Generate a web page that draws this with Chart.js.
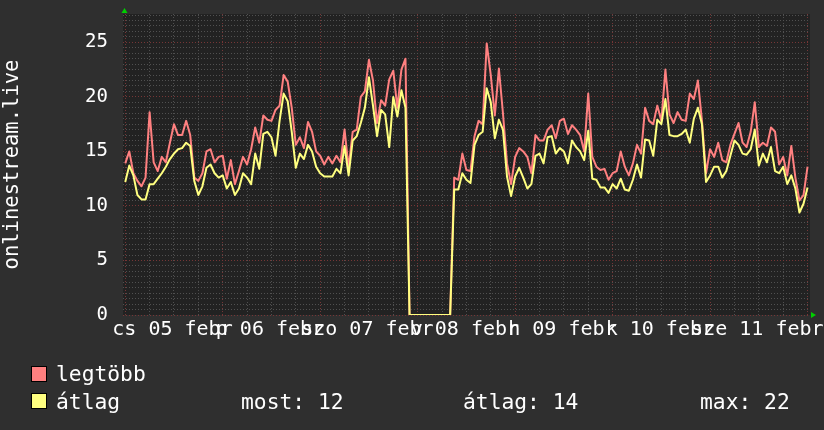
<!DOCTYPE html>
<html lang="hu">
<head>
<meta charset="utf-8">
<title>onlinestream.live</title>
<script src="https://cdn.jsdelivr.net/npm/chart.js@4/dist/chart.umd.min.js"></script>
<style>
  html, body { margin: 0; padding: 0; background: #2f2f2f; }
  #wrap { position: relative; width: 824px; height: 430px; }
  .lg { position: absolute; font: 21.3px/21.3px "DejaVu Sans Mono", monospace; color: #fff; white-space: pre; }
  .sw { position: absolute; width: 14px; height: 14px; border: 1px solid #000; }
</style>
</head>
<body>
<div id="wrap">
  <canvas id="rrdChart" width="824" height="430"></canvas>
</div>
<script>
// napi címkék (délre igazítva)
const dayLabels = ['cs 05 febr', 'p 06 febr', 'szo 07 febr', 'v 08 febr', 'h 09 febr', 'k 10 febr', 'sze 11 febr'];

// óránkénti értékek, 0..168 óra
const maxValues = [
  13.9, 15.0, 13.0, 12.3, 11.8, 12.6, 18.6, 14.0, 13.2, 14.5, 14.0, 15.8, 17.5, 16.5, 16.5, 17.8, 16.5, 12.6, 12.3, 13.0, 15.0, 15.2, 14.0, 14.5,
  14.6, 12.5, 14.2, 12.0, 13.2, 14.5, 13.8, 15.2, 17.2, 15.8, 18.3, 17.9, 17.8, 18.8, 19.2, 22.0, 21.4, 19.0, 15.6, 16.3, 15.3, 17.7, 16.8, 15.0,
  14.6, 13.8, 14.5, 13.9, 14.6, 14.0, 17.0, 13.5, 16.8, 17.0, 20.0, 20.5, 23.4, 21.5, 17.6, 19.7, 19.2, 21.6, 22.4, 19.0, 22.5, 23.5, 0, 0,
  0, 0, 0, 0, 0, 0, 0, 0, 0, 12.6, 12.4, 14.8, 13.3, 13.2, 16.4, 17.8, 17.5, 24.9, 22.0, 18.3, 22.6, 18.5, 13.9, 12.0,
  14.5, 15.3, 15.0, 14.5, 13.0, 16.5, 16.0, 16.0, 17.0, 17.4, 16.2, 17.8, 18.0, 16.6, 17.4, 17.0, 16.5, 15.0, 20.3, 14.5, 13.6, 13.3, 13.4, 12.4,
  13.0, 13.2, 15.0, 13.6, 12.8, 13.9, 15.6, 14.8, 19.0, 17.8, 17.5, 19.2, 17.8, 22.5, 18.4, 17.6, 18.6, 17.9, 17.8, 20.3, 19.8, 21.5, 17.8, 13.0,
  15.2, 14.5, 15.8, 14.2, 14.0, 15.6, 16.6, 17.6, 15.8, 15.4, 16.8, 19.5, 15.4, 15.8, 15.5, 17.2, 16.8, 13.8, 14.5, 12.8, 15.5, 12.6, 10.5, 11.0, 13.6
];
const avgValues = [
  12.2, 13.7, 12.8, 11.0, 10.6, 10.6, 12.0, 12.0, 12.5, 13.0, 13.6, 14.3, 14.8, 15.2, 15.3, 15.8, 15.5, 12.3, 11.0, 11.8, 13.5, 13.8, 13.0, 12.6,
  12.8, 11.6, 12.2, 11.0, 11.6, 13.0, 12.6, 12.0, 14.8, 13.4, 16.6, 16.8, 16.3, 14.6, 17.8, 20.3, 19.6, 16.8, 13.5, 14.8, 14.3, 15.6, 15.0, 13.6,
  13.0, 12.7, 12.7, 12.7, 13.4, 13.0, 15.5, 12.8, 16.0, 16.4, 17.6, 19.0, 21.8, 19.2, 16.4, 18.8, 18.4, 15.4, 20.0, 18.2, 20.6, 19.0, 0, 0,
  0, 0, 0, 0, 0, 0, 0, 0, 0, 11.5, 11.5, 13.0, 12.4, 12.1, 15.6, 16.5, 16.8, 20.8, 19.5, 16.2, 17.9, 17.0, 12.7, 10.9,
  12.7, 13.5, 12.6, 11.6, 12.0, 14.6, 14.8, 13.9, 16.3, 16.4, 14.8, 15.3, 15.0, 13.9, 16.0, 15.4, 15.0, 14.2, 16.9, 12.5, 12.4, 11.7, 11.7, 11.2,
  12.0, 11.6, 12.5, 11.5, 11.4, 12.4, 13.8, 12.6, 16.1, 16.0, 14.6, 17.9, 17.5, 19.8, 16.5, 16.4, 16.4, 16.6, 17.0, 15.8, 18.0, 19.0, 17.5, 12.2,
  12.8, 13.6, 13.6, 12.6, 13.2, 14.6, 16.0, 15.6, 14.8, 14.7, 15.2, 17.0, 13.7, 14.8, 14.0, 15.4, 13.2, 13.0, 13.6, 12.0, 12.8, 11.6, 9.4, 10.2, 11.7
];

const seriesNames = ['legtöbb', 'átlag'];
const seriesColors = ['#ff8080', '#ffff80'];
const statLabels = ['most', 'átlag', 'max'];
const statValues = [12, 14, 22];

const FONT = 'DejaVu Sans Mono';
const MINOR = '#505050';
const MAJOR = '#763636';

// rrdtool-szerű háttér és zöld nyilak
const plotFrame = {
    id: 'plotFrame',
    beforeDraw(chart) {
        const { ctx, chartArea: a } = chart;
        ctx.save();
        ctx.fillStyle = '#222222';
        ctx.fillRect(a.left, a.top, a.right - a.left, a.bottom - a.top);
        ctx.restore();
    },
    afterDraw(chart) {
        const { ctx, chartArea: a } = chart;
        const x0 = a.left + 1.5;
        ctx.save();
        ctx.fillStyle = '#00d000';
        ctx.beginPath();
        ctx.moveTo(x0 - 3, a.top - 1);
        ctx.lineTo(x0 + 3, a.top - 1);
        ctx.lineTo(x0, a.top - 6);
        ctx.closePath();
        ctx.fill();
        ctx.beginPath();
        ctx.moveTo(a.right + 1, a.bottom - 3);
        ctx.lineTo(a.right + 1, a.bottom + 3);
        ctx.lineTo(a.right + 6, a.bottom);
        ctx.closePath();
        ctx.fill();
        ctx.restore();
    }
};

const toPoints = arr => arr.map((v, i) => ({ x: i, y: v }));

new Chart(document.getElementById('rrdChart'), {
    type: 'line',
    data: {
        datasets: [
            { label: seriesNames[0], data: toPoints(maxValues), borderColor: seriesColors[0], borderWidth: 2, pointRadius: 0, tension: 0, borderJoinStyle: 'round', order: 1 },
            { label: seriesNames[1], data: toPoints(avgValues), borderColor: seriesColors[1], borderWidth: 2, pointRadius: 0, tension: 0, borderJoinStyle: 'round', order: 0 }
        ]
    },
    options: {
        responsive: false, animation: false,
        layout: { padding: { top: 14, right: 14, left: 0, bottom: 0 } },
        plugins: { legend: { display: false }, tooltip: { enabled: false } },
        scales: {
            x: {
                type: 'linear', bounds: 'data', min: -0.55, max: 168.6,
                afterBuildTicks: s => { s.ticks = []; for (let h = 0; h <= 168; h += 6) s.ticks.push({ value: h }); },
                afterFit: s => { s.height = 115; s.paddingLeft = 0; s.paddingRight = 0; },
                ticks: {
                    autoSkip: false, maxRotation: 0, minRotation: 0, padding: 3, labelOffset: -1.5,
                    color: '#ffffff', font: { family: FONT, size: 20 },
                    callback: v => v % 24 === 12 ? dayLabels[(v - 12) / 24] : ''
                },
                grid: { drawTicks: false, lineWidth: 1, color: c => (c.tick && c.tick.value % 24 === 0) ? MAJOR : MINOR },
                border: { display: false, dash: [1, 2] }
            },
            y: {
                type: 'linear', bounds: 'data', min: 0, max: 27.6,
                afterBuildTicks: s => { s.ticks = []; for (let k = 0; k <= 55; k++) s.ticks.push({ value: k * 0.5 }); },
                afterFit: s => { s.width = 123; s.paddingTop = 0; s.paddingBottom = 0; },
                ticks: {
                    autoSkip: false, padding: 15, color: '#ffffff', font: { family: FONT, size: 19 },
                    callback: v => v % 5 === 0 ? String(v) : ''
                },
                grid: { drawTicks: false, lineWidth: 1, color: c => (c.tick && c.tick.value % 5 === 0) ? MAJOR : MINOR },
                border: { display: false, dash: [1, 2] },
                title: { display: true, text: 'onlinestream.live', color: '#ffffff', font: { family: FONT, size: 20.5 }, padding: 0 }
            }
        }
    },
    plugins: [plotFrame]
});

// jelmagyarázat
const wrap = document.getElementById('wrap');
function addText(txt, left, top) {
    const d = document.createElement('div');
    d.className = 'lg';
    d.textContent = txt;
    d.style.left = left + 'px';
    d.style.top = top + 'px';
    wrap.appendChild(d);
}
seriesNames.forEach((name, i) => {
    const sw = document.createElement('div');
    sw.className = 'sw';
    sw.style.left = '31px';
    sw.style.top = (366 + i * 27) + 'px';
    sw.style.background = seriesColors[i];
    wrap.appendChild(sw);
    addText(name, 56, 363 + i * 28);
});
const statX = [241, 463, 700];
statLabels.forEach((l, i) => addText(l + ': ' + statValues[i], statX[i], 391));
</script>
</body>
</html>
